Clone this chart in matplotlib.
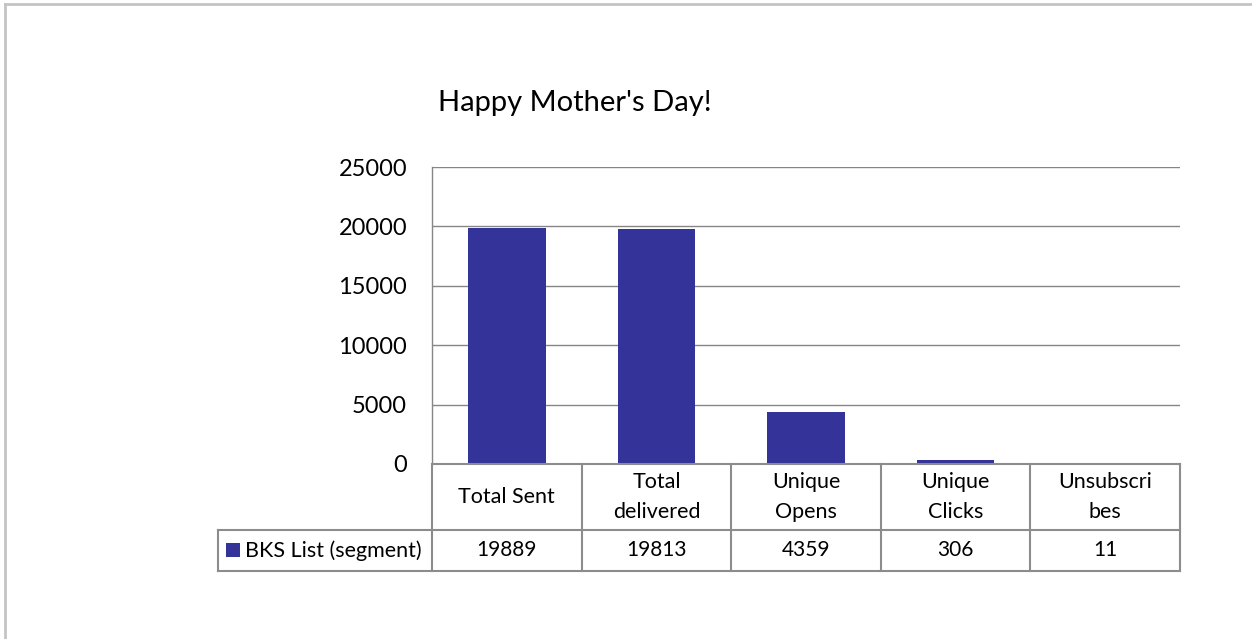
import matplotlib
matplotlib.use("Agg")
import matplotlib.pyplot as plt
from matplotlib.lines import Line2D
from matplotlib.patches import Rectangle
import matplotlib.transforms as mtransforms

plt.rcParams['font.family'] = ['Lato', 'DejaVu Sans']

title = "Happy Mother's Day!"
categories = ["Total Sent", "Total\ndelivered", "Unique\nOpens", "Unique\nClicks", "Unsubscri\nbes"]
values = [19889, 19813, 4359, 306, 11]
series_name = "BKS List (segment)"
yticks = [0, 5000, 10000, 15000, 20000, 25000]

bar_color = "#333399"
grid_color = "#868686"
table_color = "#8c8c8c"

W, H = 1252, 639
fig = plt.figure(figsize=(W / 100, H / 100), dpi=100)

left, right, top, bottom = 432, 1180, 167, 464
ax = fig.add_axes([left / W, 1 - bottom / H, (right - left) / W, (bottom - top) / H])

x = list(range(len(categories)))
ax.bar(x, values, width=0.52, color=bar_color, zorder=3)
ax.set_xlim(-0.5, len(categories) - 0.5)
ax.set_ylim(0, 25000)
ax.set_yticks(yticks)
ax.set_yticklabels([str(t) for t in yticks], fontsize=17)
ax.tick_params(axis='y', length=0, pad=18)
ax.set_xticks([])
ax.yaxis.grid(True, color=grid_color, linewidth=1.0, zorder=0)
for s in ['top', 'right', 'bottom']:
    ax.spines[s].set_visible(False)
ax.spines['left'].set_color(grid_color)
ax.spines['left'].set_linewidth(1.0)

fig.text(575 / W, 1 - 103 / H, title, fontsize=21, ha='center', va='center')

# data table
trans = mtransforms.blended_transform_factory(ax.transData, ax.transAxes)
ph = bottom - top
r1 = -(530 - bottom) / ph
r2 = -(571 - bottom) / ph
leg_left = (218 - left) / ((right - left) / len(categories)) - 0.5
n = len(categories)
lw = 1.5

def hline(x0, x1, y):
    ax.add_line(Line2D([x0, x1], [y, y], transform=trans, color=table_color, lw=lw, clip_on=False, zorder=5))

def vline(xx, y0, y1):
    ax.add_line(Line2D([xx, xx], [y0, y1], transform=trans, color=table_color, lw=lw, clip_on=False, zorder=5))

hline(-0.5, n - 0.5, 0)
hline(leg_left, n - 0.5, r1)
hline(leg_left, n - 0.5, r2)
for i in range(n + 1):
    vline(i - 0.5, 0, r2)
vline(leg_left, r1, r2)

for i, (c, v) in enumerate(zip(categories, values)):
    ax.text(i, r1 / 2, c, transform=trans, ha='center', va='center', fontsize=15.5, linespacing=1.65)
    ax.text(i, (r1 + r2) / 2, str(v), transform=trans, ha='center', va='center', fontsize=15)

# legend key in table
fig.patches.append(Rectangle((226 / W, 1 - 557 / H), 14 / W, 14 / H, transform=fig.transFigure,
                             facecolor=bar_color, edgecolor='none'))
fig.text(245 / W, 1 - 550.5 / H, series_name, fontsize=15.5, ha='left', va='center')

# outer chart border
fig.add_artist(Line2D([4.5 / W, 1], [1 - 3.5 / H, 1 - 3.5 / H], transform=fig.transFigure, color="#c4c4c4", lw=2))
fig.add_artist(Line2D([4.5 / W, 4.5 / W], [0, 1 - 3.5 / H], transform=fig.transFigure, color="#c4c4c4", lw=2))

fig.savefig("out.png", dpi=100)
